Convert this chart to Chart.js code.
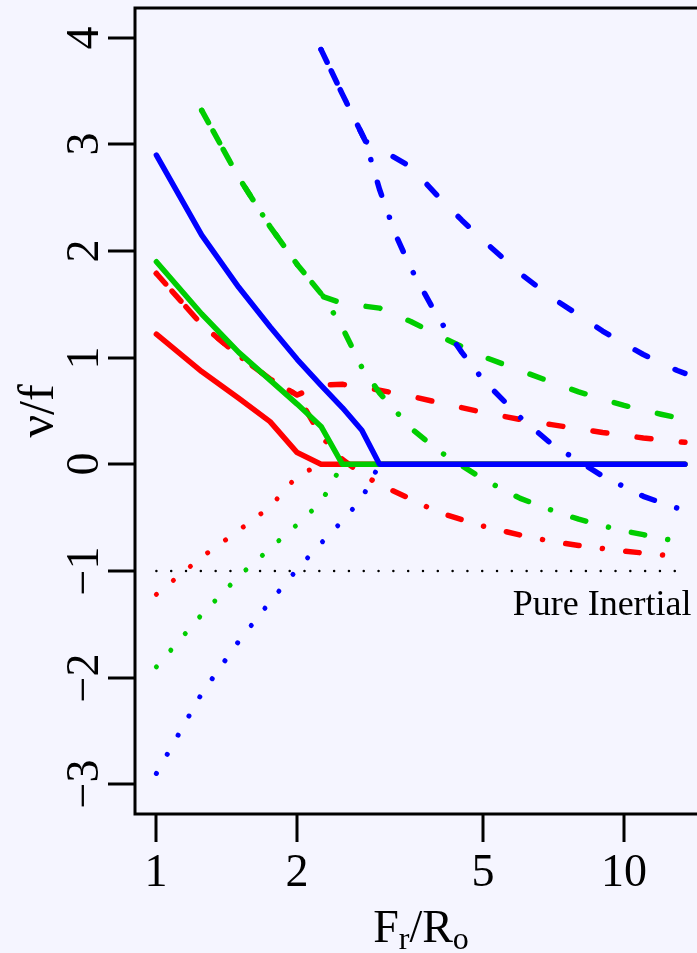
<!DOCTYPE html>
<html>
<head>
<meta charset="utf-8">
<script src="https://cdn.jsdelivr.net/npm/chart.js@4/dist/chart.umd.min.js"></script>
<style>
  html, body { margin: 0; padding: 0; background: #F5F5FF; overflow: hidden; width: 697px; height: 953px; }
  canvas { display: block; }
</style>
</head>
<body>
<canvas id="c" width="720" height="953"></canvas>
<script>
// ---- tick values ----
const xTickValues = [1, 2, 5, 10];
const yTickValues = [-3, -2, -1, 0, 1, 2, 3, 4];

// ---- red series ----
const redSolidX   = [1, 1.25, 1.5, 1.75, 2, 2.25, 13.5];
const redSolidY   = [1.22, 0.87, 0.62, 0.40, 0.11, 0, 0];
const redDottedX  = [1, 1.25, 1.5, 1.75, 2, 2.25];
const redDottedY  = [-1.22, -0.87, -0.62, -0.40, -0.11, 0];
const redDashX    = [1, 1.25, 1.5, 1.75, 2, 2.25, 2.5, 2.75, 3, 3.5, 4, 5, 6, 7, 8, 9, 10, 11, 12, 13, 13.5];
const redDashY    = [1.79, 1.31, 1.02, 0.80, 0.65, 0.745, 0.75, 0.725, 0.695, 0.64, 0.58, 0.487, 0.42, 0.372, 0.333, 0.298, 0.272, 0.247, 0.228, 0.214, 0.206];
const redDashDotX = [1, 1.25, 1.5, 1.75, 2, 2.25, 2.5, 2.75, 3, 3.5, 4, 5, 6, 7, 8, 9, 10, 11, 12, 13, 13.5];
const redDashDotY = [1.79, 1.31, 1.02, 0.80, 0.65, 0.265, 0.045, -0.09, -0.19, -0.325, -0.45, -0.58, -0.664, -0.723, -0.762, -0.79, -0.815, -0.832, -0.85, -0.862, -0.868];

// ---- green series ----
const greenSolidX   = [1, 1.25, 1.5, 1.75, 2, 2.25, 2.5, 13.5];
const greenSolidY   = [1.90, 1.41, 1.05, 0.79, 0.565, 0.355, 0, 0];
const greenDottedX  = [1, 1.25, 1.5, 1.75, 2, 2.25, 2.5];
const greenDottedY  = [-1.90, -1.41, -1.05, -0.79, -0.565, -0.355, 0];
const greenDashX    = [1.25, 1.5, 1.75, 2, 2.28, 2.5, 3, 3.5, 4, 5, 6, 7, 8, 9, 10, 11, 12, 13, 13.5];
const greenDashY    = [3.32, 2.69, 2.23, 1.875, 1.57, 1.51, 1.465, 1.34, 1.21, 1.01, 0.88, 0.77, 0.68, 0.61, 0.553, 0.507, 0.47, 0.437, 0.425];
const greenDashDotX = [1.25, 1.5, 1.75, 2, 2.28, 2.5, 2.75, 3, 3.5, 4, 5, 6, 7, 8, 9, 10, 11, 12, 13, 13.5];
const greenDashDotY = [3.32, 2.69, 2.23, 1.875, 1.57, 1.28, 0.91, 0.67, 0.34, 0.13, -0.14, -0.32, -0.43, -0.515, -0.575, -0.625, -0.66, -0.694, -0.72, -0.73];

// ---- blue series ----
const blueSolidX   = [1, 1.25, 1.5, 1.75, 2, 2.25, 2.5, 2.75, 3, 13.5];
const blueSolidY   = [2.90, 2.15, 1.66, 1.29, 0.985, 0.74, 0.53, 0.32, 0, 0];
const blueDottedX  = [1, 1.25, 1.5, 1.75, 2, 2.25, 2.5, 2.75, 3];
const blueDottedY  = [-2.90, -2.15, -1.66, -1.29, -0.985, -0.74, -0.53, -0.32, 0];
const blueDashX    = [2.25, 2.5, 2.8, 3, 3.5, 4, 4.5, 5, 6, 7, 8, 9, 10, 11, 12, 13, 13.5];
const blueDashY    = [3.89, 3.47, 3.03, 2.96, 2.79, 2.515, 2.29, 2.10, 1.79, 1.565, 1.40, 1.25, 1.13, 1.03, 0.95, 0.88, 0.853];
const blueDashDotX = [2.25, 2.5, 2.8, 3, 3.25, 3.5, 4, 4.5, 5, 6, 7, 8, 9, 10, 11, 12, 13, 13.5];
const blueDashDotY = [3.89, 3.47, 3.03, 2.58, 2.15, 1.84, 1.375, 1.05, 0.79, 0.44, 0.19, 0.03, -0.11, -0.21, -0.30, -0.36, -0.41, -0.43];

// ---- reference line ----
const inertialX = [1, 13.5];
const inertialY = [-1, -1];

// ---- styles ----
const RED = '#FF0000', GREEN = '#00CD00', BLUE = '#0000FF';
const LW = 5.5;
const DASHED = [14, 30.5];
const DASHDOT = [0.01, 23.5, 13.5, 23.5];
const DOTTED = [0.01, 22];

function pts(xs, ys) { return xs.map((x, i) => ({ x: x, y: ys[i] })); }
function ds(xs, ys, color, dash, width) {
  return {
    data: pts(xs, ys),
    borderColor: color,
    borderWidth: width || LW,
    borderDash: dash,
    borderCapStyle: 'round',
    borderJoinStyle: 'round',
    pointRadius: 0,
    tension: 0,
    fill: false
  };
}

const drawList = [
  ds(inertialX, inertialY, '#000000', [0.01, 14.8], 2.5),
  ds(redSolidX, redSolidY, RED, []),
  ds(redDottedX, redDottedY, RED, DOTTED, 5),
  ds(redDashX, redDashY, RED, DASHED),
  ds(redDashDotX, redDashDotY, RED, DASHDOT),
  ds(greenSolidX, greenSolidY, GREEN, []),
  ds(greenDottedX, greenDottedY, GREEN, DOTTED, 5),
  ds(greenDashX, greenDashY, GREEN, DASHED),
  ds(greenDashDotX, greenDashDotY, GREEN, DASHDOT),
  ds(blueSolidX, blueSolidY, BLUE, []),
  ds(blueDottedX, blueDottedY, BLUE, DOTTED, 5),
  ds(blueDashX, blueDashY, BLUE, DASHED),
  ds(blueDashDotX, blueDashDotY, BLUE, DASHDOT)
];
// later in list = drawn on top
drawList.forEach((d, i) => { d.order = drawList.length - i; });

const SERIF = '"Liberation Serif", "Times New Roman", serif';

const axesPlugin = {
  id: 'rStyleAxes',
  afterDraw(chart) {
    const ctx = chart.ctx;
    const a = chart.chartArea;
    const xs = chart.scales.x, ys = chart.scales.y;
    ctx.save();
    ctx.strokeStyle = '#000';
    ctx.fillStyle = '#000';
    ctx.lineWidth = 3;
    ctx.lineCap = 'butt';
    ctx.setLineDash([]);
    // box
    ctx.strokeRect(a.left, a.top, a.right - a.left, a.bottom - a.top);
    // x ticks + labels
    ctx.font = '46px ' + SERIF;
    ctx.textAlign = 'center';
    ctx.textBaseline = 'alphabetic';
    xTickValues.forEach(v => {
      const px = Math.round(xs.getPixelForValue(v));
      ctx.beginPath(); ctx.moveTo(px, a.bottom); ctx.lineTo(px, a.bottom + 28); ctx.stroke();
      ctx.fillText(String(v), px, a.bottom + 72);
    });
    // y ticks + rotated labels
    yTickValues.forEach(v => {
      const py = Math.round(ys.getPixelForValue(v));
      ctx.beginPath(); ctx.moveTo(a.left - 27, py); ctx.lineTo(a.left, py); ctx.stroke();
      ctx.save();
      ctx.translate(a.left - 37, py);
      ctx.rotate(-Math.PI / 2);
      ctx.fillText(v < 0 ? '\u2212' + Math.abs(v) : String(v), 0, 0);
      ctx.restore();
    });
    // y axis title
    ctx.save();
    ctx.translate(53, (a.top + a.bottom) / 2);
    ctx.rotate(-Math.PI / 2);
    ctx.font = '50px ' + SERIF;
    ctx.fillText('\u03BD/f', 0, 0);
    ctx.restore();
    // x axis title F_r / R_o
    const parts = [
      ['F', 46, 0], ['r', 32, 7], ['/', 46, 0], ['R', 46, 0], ['o', 32, 7]
    ];
    let total = 0;
    parts.forEach(p => { ctx.font = p[1] + 'px ' + SERIF; p.push(ctx.measureText(p[0]).width); total += p[3]; });
    let cx = (a.left + a.right) / 2 - total / 2;
    ctx.textAlign = 'left';
    parts.forEach(p => {
      ctx.font = p[1] + 'px ' + SERIF;
      ctx.fillText(p[0], cx, 942 + p[2]);
      cx += p[3];
    });
    // annotation
    ctx.font = '36px ' + SERIF;
    ctx.textAlign = 'right';
    ctx.fillText('Pure Inertial', xs.getPixelForValue(13.95), ys.getPixelForValue(-1.412));
    ctx.restore();
  }
};

new Chart(document.getElementById('c'), {
  type: 'line',
  data: { datasets: drawList },
  options: {
    responsive: false,
    animation: false,
    devicePixelRatio: 1,
    layout: { padding: { left: 135, top: 8, right: 13, bottom: 139 } },
    plugins: { legend: { display: false }, tooltip: { enabled: false } },
    scales: {
      x: { type: 'logarithmic', min: 0.9, max: 15.05, display: false },
      y: { type: 'linear', min: -3.28, max: 4.28, display: false }
    }
  },
  plugins: [axesPlugin]
});
</script>
</body>
</html>
